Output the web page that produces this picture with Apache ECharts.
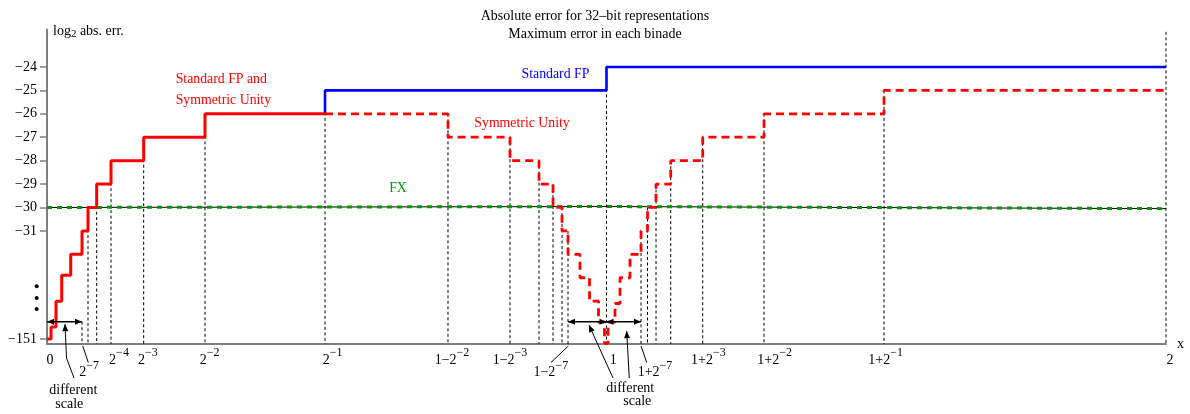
<!DOCTYPE html>
<html><head><meta charset="utf-8">
<script src="https://cdn.jsdelivr.net/npm/echarts@6/dist/echarts.min.js"></script>
<style>html,body{margin:0;padding:0;background:#fff}#c{width:1190px;height:414px}</style>
</head><body><div id="c"></div>
<script>
// ---------- DATA (x is the position along the drawn, distorted axis; y is log2 abs. err. on the broken axis) ----------
// Standard FP and Symmetric Unity, shared part (0 .. 2^-1), value holds from each x to the next
const sharedX = [0, 0.0072, 0.0161, 0.0263, 0.0424, 0.0626, 0.0733, 0.0888, 0.1144, 0.1728, 0.2824, 0.4969];
const sharedY = [-35.62, -35.1, -34.0, -32.89, -32.0, -31, -30, -29, -28, -27, -26, -26];
// Standard FP (2^-1 .. 2)
const stdFpX = [0.4969, 0.4969, 1.0, 2.0];
const stdFpY = [-26, -25, -24, -24];
// Symmetric Unity (2^-1 .. 2)
const symX = [0.4969, 0.7167, 0.8275, 0.8794, 0.9044, 0.9205, 0.9312, 0.9526, 0.9696, 0.9857, 0.9964, 1.0027, 1.0152, 1.0241, 1.0420, 1.0617, 1.0733, 1.0885, 1.1148, 1.1720, 1.2815, 1.4960, 2.0];
const symY = [-26, -27, -28, -29, -30, -31, -32.0, -33.0, -34.0, -34.9, -35.8, -34.9, -34.1, -33.0, -32.0, -31, -30, -29, -28, -27, -26, -25, -25];
// FX (fixed point)
const fxX = [0, 1.0, 2.0];
const fxY = [-30, -29.96, -30.05];
// binade edges (dashed drop lines) and the level each starts from
const dropX = [0.0626, 0.0733, 0.0888, 0.1144, 0.1728, 0.2824, 0.4969, 0.7167, 0.8275, 0.8794, 0.9044, 0.9205, 0.9312, 1.0, 1.0617, 1.0733, 1.0885, 1.1148, 1.1720, 1.2815, 1.4960, 2.0];
const dropTop = [-34.88, -30, -29, -28, -27, -26, -25, -26, -27, -28, -29, -30, -31, -24, -31, -30, -29, -28, -27, -26, -25, -22.5];
// y tick values and labels (broken axis: the bottom tick stands for -151)
const yTickVals = [-24, -25, -26, -27, -28, -29, -30, -31, -35.62];
const yTickLabels = ['\u221224', '\u221225', '\u221226', '\u221227', '\u221228', '\u221229', '\u221230', '\u221231', '\u2212151'];
// x tick labels
const xLabelPos = [0, 0.0626, 0.1144, 0.1728, 0.2824, 0.4969, 0.7167, 0.8275, 0.9312, 1.0, 1.0617, 1.1720, 1.2815, 1.4960, 2.0];
const xLabelBase = ['0', '2', '2', '2', '2', '2', '1\u22122', '1\u22122', '1\u22122', '1', '1+2', '1+2', '1+2', '1+2', '2'];
const xLabelExp = ['', '\u22127', '\u22124', '\u22123', '\u22122', '\u22121', '\u22122', '\u22123', '\u22127', '', '\u22127', '\u22123', '\u22122', '\u22121', ''];
// "different scale" regions (double arrows)
const scaleSpans = [[0, 0.0626], [0.9312, 1.0], [1.0, 1.0617]];
const ellipsisY = [-33.36, -33.87, -34.34];

// ---------- LAYOUT / STYLE ----------
const Y_MIN = -35.83, Y_MAX = -22.4, ARROW_Y = -34.88;
const FONT = '"Liberation Serif","Times New Roman",serif';
const xLabelDx = [3, 7, 8, 4.3, 4.7, 7.5, 4, 0, -17.2, 6.7, 14, 5.6, 10.7, 1.6, 4];
const leaders = {1: [0.7, 6.3], 8: [0.3, -17], 10: [0, 5.7]};
const pairs = (xs, ys) => xs.map((x, i) => [x, ys[i]]);

const rich = {
  b: {fontSize: 14, lineHeight: 26, fontFamily: FONT, fill: '#000'},
  s: {fontSize: 12, lineHeight: 10, verticalAlign: 'top', fontFamily: FONT, fill: '#000'},
  a: {fontSize: 14, lineHeight: 18, fontFamily: FONT, fill: '#000'},
  u: {fontSize: 11, lineHeight: 8, verticalAlign: 'bottom', fontFamily: FONT, fill: '#000'}
};

function renderDrops(params, api) {
  const x = api.value(0), top = api.value(1);
  const p = api.coord([x, top]), q = api.coord([x, Y_MIN]);
  return {type: 'line', shape: {x1: p[0], y1: p[1], x2: q[0], y2: q[1]},
    style: {stroke: '#000', lineWidth: 1, lineDash: [3, 2.5]}};
}

function renderAnnotations(params, api) {
  const ch = [];
  const P = (x, y) => api.coord([x, y]);
  const axisY = api.coord([0, Y_MIN])[1];
  const B = (x, dy) => [api.coord([x, Y_MIN])[0], axisY + dy];
  const line = (pts, w) => ch.push({type: 'polyline', shape: {points: pts}, style: {stroke: '#000', lineWidth: w || 1, fill: 'none'}});
  const head = (tip, from) => {
    const dx = tip[0] - from[0], dy = tip[1] - from[1], L = Math.hypot(dx, dy);
    const ux = dx / L, uy = dy / L, len = 7, hw = 3;
    const bx = tip[0] - ux * len, by = tip[1] - uy * len;
    ch.push({type: 'polygon', shape: {points: [tip, [bx - uy * hw, by + ux * hw], [bx + uy * hw, by - ux * hw]]}, style: {fill: '#000'}});
  };
  const text = (x, y, t, opt) => ch.push({type: 'text', x: x, y: y,
    style: Object.assign({text: t, fontFamily: FONT, fontSize: 14, fill: '#000', align: 'center', verticalAlign: 'middle', rich: rich}, opt || {})});

  // double arrows marking the regions with a different scale
  scaleSpans.forEach(s => {
    const p = P(s[0], ARROW_Y), q = P(s[1], ARROW_Y);
    line([p, q], 1.5); head(p, q); head(q, p);
  });
  // pointers from the "different scale" notes
  const ptr = (pts) => { line(pts, 1); head(pts[pts.length - 1], pts[pts.length - 2]); };
  ptr([B(0.0483, 34), B(0.0349, 14), P(0.0322, -34.98)]);
  ptr([B(1.0116, 34), P(0.9687, -35.02)]);
  ptr([B(1.0407, 34), P(1.0361, -35.28)]);
  let p;
  p = B(0.0470, 46); text(p[0], p[1], 'different');
  p = B(0.0399, 60.7); text(p[0], p[1], 'scale');
  p = B(1.0425, 44.3); text(p[0], p[1], 'different');
  p = B(1.0550, 57.7); text(p[0], p[1], 'scale');

  // x tick labels
  xLabelPos.forEach((x, i) => {
    const t = api.coord([x, Y_MIN]);
    const lead = leaders[i];
    const str = xLabelExp[i] ? '{b|' + xLabelBase[i] + '}{s|' + xLabelExp[i] + '}' : '{b|' + xLabelBase[i] + '}';
    if (lead) {
      line([[t[0] + lead[0], axisY + 2], [t[0] + lead[1], axisY + 18.5]], 1);
      text(t[0] + xLabelDx[i], axisY + 28.5, str);
    } else {
      text(t[0] + xLabelDx[i], axisY + 16, str);
    }
  });

  // vertical ellipsis on the broken y axis
  ellipsisY.forEach(y => { const q = P(0, y); ch.push({type: 'circle', shape: {cx: q[0] - 10.3, cy: q[1], r: 2}, style: {fill: '#000'}}); });

  // y axis name
  const top = P(0, Y_MAX);
  text(top[0] + 6, top[1] + 1.5, '{a|log}{u|2}{a| abs. err.}', {align: 'left'});

  // series labels
  const lab = (x, y, t, c, al) => { const q = P(x, y); text(q[0], q[1], t, {fill: c, fontSize: 13.8, align: al || 'center', rich: null}); };
  lab(0.2300, -24.52, 'Standard FP and', '#ff0000', 'left');
  lab(0.2300, -25.42, 'Symmetric Unity', '#ff0000', 'left');
  lab(0.9088, -24.31, 'Standard FP', '#0000ff');
  lab(0.8490, -26.40, 'Symmetric Unity', '#ff0000');
  lab(0.6273, -29.18, 'FX', '#009900');
  return {type: 'group', children: ch};
}

const chart = echarts.init(document.getElementById('c'), null, {renderer: 'canvas', width: 1190, height: 414});
chart.setOption({
  animation: false,
  backgroundColor: '#fff',
  textStyle: {fontFamily: FONT},
  title: {
    text: 'Absolute error for 32\u2013bit representations\nMaximum error in each binade',
    left: 'center', top: 2, padding: [5, 5, 5, 15],
    textStyle: {fontFamily: FONT, fontSize: 14, fontWeight: 'normal', color: '#000', lineHeight: 18}
  },
  grid: {left: 47, right: 24, top: 29.5, bottom: 70, containLabel: false, outerBoundsMode: 'none'},
  xAxis: {
    type: 'value', min: 0, max: 2,
    name: 'x', nameLocation: 'end', nameGap: 11,
    nameTextStyle: {fontFamily: FONT, fontSize: 14, color: '#000', verticalAlign: 'middle'},
    axisLine: {show: true, onZero: false, lineStyle: {color: '#808080', width: 2}},
    axisTick: {show: false}, axisLabel: {show: false}, splitLine: {show: false}
  },
  yAxis: {
    type: 'value', min: Y_MIN, max: Y_MAX,
    axisLine: {show: true, onZero: false, lineStyle: {color: '#808080', width: 2}},
    axisTick: {show: true, length: 7, customValues: yTickVals, lineStyle: {color: '#808080', width: 1.5}},
    axisLabel: {
      show: true, customValues: yTickVals, margin: 10,
      fontFamily: FONT, fontSize: 14, color: '#000',
      formatter: v => { const i = yTickVals.findIndex(t => Math.abs(t - v) < 1e-6); return i >= 0 ? yTickLabels[i] : ''; }
    },
    splitLine: {show: false}
  },
  series: [
    {type: 'custom', name: 'drops', renderItem: renderDrops, data: pairs(dropX, dropTop), z: 1, silent: true},
    {type: 'line', name: 'ref', data: pairs(fxX, fxY), showSymbol: false, symbol: 'none', z: 2, silent: true,
      lineStyle: {color: '#000', width: 1}},
    {type: 'line', name: 'FX', data: pairs(fxX, fxY), showSymbol: false, symbol: 'none', z: 3, silent: true,
      lineStyle: {color: '#009900', width: 3, type: [5, 5]}},
    {type: 'line', name: 'Standard FP', data: pairs(stdFpX, stdFpY), step: 'end', showSymbol: false, symbol: 'none', z: 4, silent: true,
      lineStyle: {color: '#0000ff', width: 2.6}},
    {type: 'line', name: 'Symmetric Unity', data: pairs(symX, symY), step: 'end', showSymbol: false, symbol: 'none', z: 4, silent: true,
      lineStyle: {color: '#ff0000', width: 2.8, type: [8, 5]}},
    {type: 'line', name: 'Standard FP and Symmetric Unity', data: pairs(sharedX, sharedY), step: 'end', showSymbol: false, symbol: 'none', z: 5, silent: true,
      lineStyle: {color: '#ff0000', width: 3}},
    {type: 'custom', name: 'annotations', renderItem: renderAnnotations, data: [[0, Y_MIN]], z: 6, silent: true, clip: false}
  ]
});
</script>
</body></html>
